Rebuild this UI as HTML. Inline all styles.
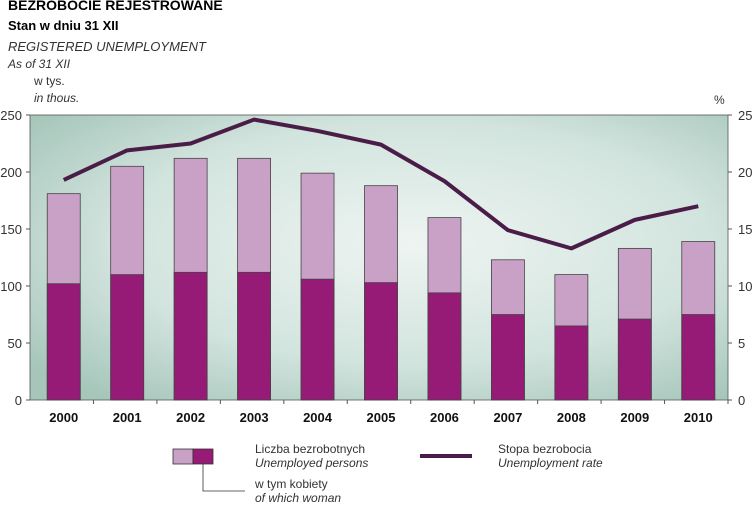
<!DOCTYPE html>
<html><head><meta charset="utf-8"><style>
body{margin:0;width:755px;height:505px;background:#fff;font-family:"Liberation Sans",sans-serif;overflow:hidden}
svg{display:block}
</style></head><body>
<svg width="755" height="505" xmlns="http://www.w3.org/2000/svg">
<defs>
<radialGradient id="bg" cx="0.55" cy="0.45" r="0.7">
<stop offset="0" stop-color="#eef4f1"/><stop offset="0.6" stop-color="#d2e4de"/><stop offset="1" stop-color="#a6c6ba"/>
</radialGradient>
</defs>
<text x="8" y="10" font-size="14" font-weight="bold">BEZROBOCIE  REJESTROWANE</text>
<text x="8" y="30" font-size="13" font-weight="bold">Stan w dniu 31 XII</text>
<text x="8" y="51" font-size="13" font-style="italic" fill="#333">REGISTERED UNEMPLOYMENT</text>
<text x="8" y="68" font-size="12" font-style="italic" fill="#333">As of 31 XII</text>
<text x="34" y="85" font-size="12" fill="#333">w tys.</text>
<text x="34" y="102" font-size="12" font-style="italic" fill="#333">in thous.</text>
<text x="714" y="104" font-size="12" fill="#333">%</text>
<rect x="30" y="115" width="698" height="285" fill="url(#bg)" stroke="#555" stroke-width="0.8"/>
<g id="marks"></g>
<g>
<rect x="173" y="449" width="20" height="15" fill="#c9a0c6" stroke="#333" stroke-width="0.8"/>
<rect x="193" y="449" width="20" height="15" fill="#951b76" stroke="#333" stroke-width="0.8"/>
<text x="255" y="453" font-size="12" fill="#333">Liczba bezrobotnych</text>
<text x="255" y="467" font-size="12" font-style="italic" fill="#333">Unemployed persons</text>
<polyline points="203,464 203,491 245,491" fill="none" stroke="#333" stroke-width="0.8"/>
<text x="255" y="488" font-size="12" fill="#333">w tym kobiety</text>
<text x="255" y="502" font-size="12" font-style="italic" fill="#333">of which woman</text>
<line x1="420" y1="456" x2="472" y2="456" stroke="#4a1d48" stroke-width="4"/>
<text x="498" y="453" font-size="12" fill="#333">Stopa bezrobocia</text>
<text x="498" y="467" font-size="12" font-style="italic" fill="#333">Unemployment rate</text>
</g>
</svg>
<script>
const years=["2000","2001","2002","2003","2004","2005","2006","2007","2008","2009","2010"];
const totalValues=[181,205,212,212,199,188,160,123,110,133,139];
const womenValues=[102,110,112,112,106,103,94,75,65,71,75];
const rateValues=[19.3,21.9,22.5,24.6,23.6,22.4,19.2,14.9,13.3,15.8,17.0];
const leftTicks=[0,50,100,150,200,250];
const rightTicks=[0,5,10,15,20,25];
const NS="http://www.w3.org/2000/svg";
const X0=30,X1=728,Y0=400,Y1=115;
const bw=(X1-X0)/years.length;
const yL=v=>Y0-(v/250)*(Y0-Y1);
const yR=v=>Y0-(v/25)*(Y0-Y1);
const xC=i=>X0+bw*(i+0.5)+2;
const g=document.getElementById('marks');
function mk(t,a){const e=document.createElementNS(NS,t);for(const k in a)e.setAttribute(k,a[k]);g.appendChild(e);return e;}
leftTicks.forEach(v=>{
 const l=mk('line',{x1:X0-4,x2:X0,y1:yL(v),y2:yL(v),stroke:'#555'});
 
 
 const t=mk('text',{x:X0-8,y:yL(v)+5,'text-anchor':'end','font-size':13,fill:'#333'});t.textContent=v;
 
 
});
rightTicks.forEach(v=>{
 const l=mk('line',{x1:X1,x2:X1+4,y1:yR(v),y2:yR(v),stroke:'#555'});
 
 
 const t=mk('text',{x:X1+10,y:yR(v)+5,'font-size':13,fill:'#333'});t.textContent=v;
 
 
});
years.forEach((y,i)=>{
 const cx=xC(i),w=33;
 const r1=mk('rect',{x:cx-w/2,y:yL(totalValues[i]),width:w,height:Y0-yL(totalValues[i]),fill:'#c9a0c6',stroke:'#444','stroke-width':0.8});
 
 
 const r2=mk('rect',{x:cx-w/2,y:yL(womenValues[i]),width:w,height:Y0-yL(womenValues[i]),fill:'#951b76',stroke:'#444','stroke-width':0.8});
 
 
 const tk=mk('line',{x1:X0+bw*(i+1),x2:X0+bw*(i+1),y1:Y0,y2:Y0+4,stroke:'#555'});
 
 
 const t=mk('text',{x:cx,y:422,'text-anchor':'middle','font-size':13,'font-weight':'bold',fill:'#111'});t.textContent=y;
 
 
});
const pl=mk('polyline',{points:rateValues.map((v,i)=>xC(i)+','+yR(v)).join(' '),fill:'none',stroke:'#4a1d48','stroke-width':4,'stroke-linejoin':'round'});


</script>
</body></html>
